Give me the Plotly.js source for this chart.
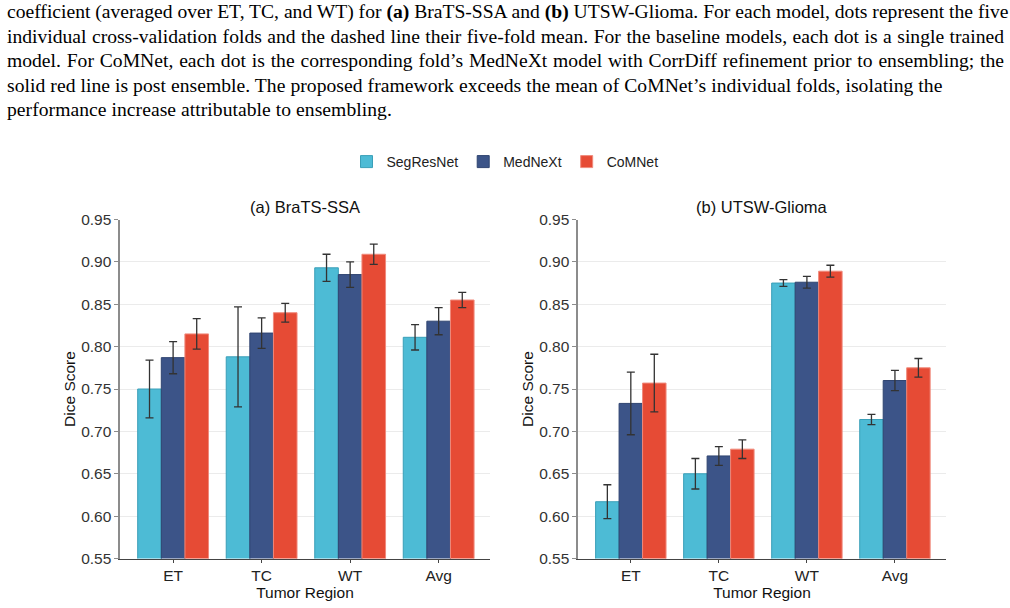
<!DOCTYPE html>
<html>
<head>
<meta charset="utf-8">
<script src="https://cdn.plot.ly/plotly-3.0.1.min.js"></script>
<style>
  html, body { margin: 0; padding: 0; background: #fff; }
  #wrap { position: relative; width: 1010px; height: 608px; overflow: hidden; }
  #chart { position: absolute; left: 0; top: 0; width: 1010px; height: 608px; }
  #caption { position: absolute; left: 7px; top: 0px; width: 997px;
             font-family: "Liberation Serif", "Times New Roman", serif;
             font-size: 19.6px; color: #000; line-height: 24.5px; }
  #caption div { white-space: nowrap; }
  #caption .j { text-align: justify; text-align-last: justify; }
  #caption .n { letter-spacing: 0.05px; }
</style>
</head>
<body>
<div id="wrap">
  <div id="chart"></div>
  <div id="caption">
    <div class="j">coefficient (averaged over ET, TC, and WT) for <b>(a)</b> BraTS-SSA and <b>(b)</b> UTSW-Glioma. For each model, dots represent the five</div>
    <div class="j">individual cross-validation folds and the dashed line their five-fold mean. For the baseline models, each dot is a single trained</div>
    <div class="j">model. For CoMNet, each dot is the corresponding fold’s MedNeXt model with CorrDiff refinement prior to ensembling; the</div>
    <div class="n">solid red line is post ensemble. The proposed framework exceeds the mean of CoMNet’s individual folds, isolating the</div>
    <div class="n">performance increase attributable to ensembling.</div>
  </div>
</div>
<script>
// Tumor regions on the x axis
const regions = ["ET", "TC", "WT", "Avg"];
const models = ["SegResNet", "MedNeXt", "CoMNet"];

// (a) BraTS-SSA: mean Dice and spread per model
const brats_segresnet = [0.750, 0.788, 0.893, 0.811];
const brats_segresnet_err = [0.034, 0.059, 0.016, 0.015];
const brats_mednext = [0.787, 0.816, 0.885, 0.830];
const brats_mednext_err = [0.019, 0.018, 0.015, 0.016];
const brats_comnet = [0.815, 0.840, 0.909, 0.855];
const brats_comnet_err = [0.018, 0.011, 0.012, 0.009];

// (b) UTSW-Glioma: mean Dice and spread per model
const utsw_segresnet = [0.617, 0.650, 0.875, 0.714];
const utsw_segresnet_err = [0.020, 0.018, 0.004, 0.006];
const utsw_mednext = [0.733, 0.671, 0.876, 0.760];
const utsw_mednext_err = [0.037, 0.011, 0.007, 0.012];
const utsw_comnet = [0.757, 0.679, 0.889, 0.775];
const utsw_comnet_err = [0.034, 0.011, 0.007, 0.011];

const yTicks = [0.55, 0.60, 0.65, 0.70, 0.75, 0.80, 0.85, 0.90, 0.95];

const fills = ["#4DBBD5", "#3C5488", "#E64B35"];
const edges = ["#3a9fb8", "#2f4470", "#f08a7c"];

function barTrace(name, idx, y, err, xa, ya, showLegend) {
  return {
    type: "bar", name: name, x: regions, y: y,
    xaxis: xa, yaxis: ya, legendgroup: name, showlegend: showLegend,
    marker: { color: fills[idx], line: { color: edges[idx], width: 1 } },
    error_y: { type: "data", array: err, visible: true, color: "#333333", thickness: 1.3, width: 4 },
    hoverinfo: "x+y+name"
  };
}

const data = [
  barTrace(models[0], 0, brats_segresnet, brats_segresnet_err, "x", "y", true),
  barTrace(models[1], 1, brats_mednext, brats_mednext_err, "x", "y", true),
  barTrace(models[2], 2, brats_comnet, brats_comnet_err, "x", "y", true),
  barTrace(models[0], 0, utsw_segresnet, utsw_segresnet_err, "x2", "y2", false),
  barTrace(models[1], 1, utsw_mednext, utsw_mednext_err, "x2", "y2", false),
  barTrace(models[2], 2, utsw_comnet, utsw_comnet_err, "x2", "y2", false)
];

const W = 1010, H = 608;
const yDom = [(H - 558.5) / H, (H - 219.5) / H];
const font = { family: "Liberation Sans, Arial, sans-serif", color: "#222" };

function xAxis(domain, anchor) {
  return {
    domain: domain, anchor: anchor, type: "category",
    range: [-0.6, 3.58], showgrid: false, zeroline: false,
    showline: true, linecolor: "#444", linewidth: 1.2,
    ticks: "outside", ticklen: 3, tickcolor: "#444", tickwidth: 1,
    tickfont: { family: font.family, size: 15.5, color: "#222" },
    title: { text: "Tumor Region", font: { family: font.family, size: 15.5, color: "#111" }, standoff: 3 }
  };
}
function yAxis(anchor) {
  return {
    domain: yDom, anchor: anchor, range: [0.55, 0.95],
    tickvals: yTicks, ticktext: yTicks.map(v => v.toFixed(2)),
    showgrid: true, gridcolor: "#ebebeb", gridwidth: 1, zeroline: false,
    showline: true, linecolor: "#8c8c8c", linewidth: 1.6,
    ticks: "outside", ticklen: 4, tickcolor: "#8c8c8c", tickwidth: 1,
    tickfont: { family: font.family, size: 15.5, color: "#333" },
    title: { text: "Dice Score", font: { family: font.family, size: 15.5, color: "#111" }, standoff: 2 }
  };
}

const layout = {
  width: W, height: H,
  margin: { l: 0, r: 0, t: 0, b: 0 },
  paper_bgcolor: "#fff", plot_bgcolor: "#fff",
  font: font,
  barmode: "group", bargap: 0.2, bargroupgap: 0,
  showlegend: true,
  legend: {
    orientation: "h", x: 0.5, xanchor: "center", y: (H - 162) / H, yanchor: "middle",
    font: { family: font.family, size: 14, color: "#222" },
    itemwidth: 30, tracegroupgap: 0, bgcolor: "rgba(0,0,0,0)"
  },
  xaxis: xAxis([120 / W, 490 / W], "y"),
  yaxis: yAxis("x"),
  xaxis2: xAxis([578 / W, 946 / W], "y2"),
  yaxis2: yAxis("x2"),
  annotations: [
    { text: "(a) BraTS-SSA", xref: "paper", yref: "paper", x: 305 / W, y: (H - 207) / H,
      xanchor: "center", yanchor: "middle", showarrow: false,
      font: { family: font.family, size: 16.5, color: "#111" } },
    { text: "(b) UTSW-Glioma", xref: "paper", yref: "paper", x: 762 / W, y: (H - 207) / H,
      xanchor: "center", yanchor: "middle", showarrow: false,
      font: { family: font.family, size: 16.5, color: "#111" } }
  ]
};

Plotly.newPlot("chart", data, layout, { displayModeBar: false, staticPlot: true });
</script>
</body>
</html>
